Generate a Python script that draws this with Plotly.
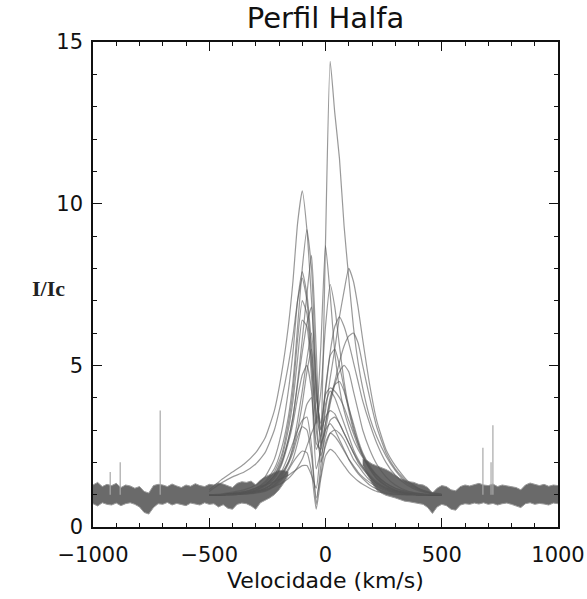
import numpy as np
import plotly.graph_objects as go

# ---------------- data ----------------
# velocity grid for emission-line profiles (km/s)
vel_core = [-500, -450, -400, -350, -300, -260, -220, -190, -160, -140, -120, -100, -80, -60, -40, -20,
            0, 20, 40, 60, 80, 100, 120, 140, 160, 190, 220, 260, 300, 350, 400, 450, 500]

prof_01 = [1.0,1.0,1.05,1.1,1.2,1.3,1.4,1.5,1.6,1.7,1.8,1.9,1.9,1.6,1.2,2.6,8.8,14.4,12.8,11.4,9.3,7.7,6.2,5.1,4.3,3.4,2.8,2.2,1.75,1.35,1.15,1.05,1.0]
prof_02 = [1.15,1.45,1.7,1.95,2.3,2.75,3.6,4.7,6.2,7.6,9.4,10.4,9.2,7.0,4.4,3.0,3.4,3.6,3.5,3.2,2.9,2.6,2.3,2.05,1.85,1.6,1.4,1.22,1.12,1.05,1.0,1.0,1.0]
prof_03 = [1.1,1.35,1.55,1.7,1.95,2.3,3.0,3.9,5.0,5.9,7.0,7.7,7.0,5.2,3.0,2.2,2.8,3.3,3.4,3.2,2.9,2.6,2.3,2.0,1.8,1.55,1.35,1.2,1.1,1.04,1.0,1.0,1.0]
prof_04 = [1.0,1.0,1.02,1.05,1.1,1.2,1.4,1.65,2.0,2.4,3.0,3.8,4.8,5.5,3.5,2.8,3.6,4.6,5.5,6.5,7.3,8.0,7.6,6.8,5.8,4.4,3.3,2.4,1.9,1.45,1.2,1.08,1.02]
prof_05 = [1.0,1.0,1.02,1.05,1.1,1.15,1.25,1.35,1.5,1.65,1.85,2.1,2.5,2.9,3.3,5.6,8.7,7.2,5.4,4.3,3.6,3.1,2.7,2.4,2.15,1.85,1.6,1.35,1.2,1.1,1.04,1.0,1.0]
prof_06 = [1.0,1.0,1.03,1.08,1.2,1.4,1.8,2.4,3.4,4.5,6.2,8.0,9.2,8.0,4.6,2.5,3.2,4.0,4.4,4.5,4.2,3.7,3.2,2.7,2.3,1.9,1.6,1.35,1.2,1.08,1.02,1.0,1.0]
prof_07 = [1.0,1.0,1.02,1.06,1.15,1.3,1.6,2.0,2.7,3.4,4.5,5.8,7.2,8.4,5.5,2.6,3.0,3.8,4.4,4.8,5.0,4.8,4.2,3.6,3.0,2.4,1.95,1.55,1.3,1.12,1.04,1.0,1.0]
prof_08 = [1.0,1.0,1.03,1.08,1.2,1.35,1.7,2.2,3.2,4.2,5.8,7.0,6.6,5.0,3.2,4.2,6.2,7.5,6.8,5.6,4.5,3.7,3.1,2.6,2.25,1.85,1.55,1.3,1.15,1.06,1.02,1.0,1.0]
prof_09 = [1.0,1.0,1.02,1.04,1.1,1.2,1.35,1.6,2.0,2.5,3.3,4.2,5.2,6.0,4.0,3.2,4.2,5.4,6.2,6.5,6.2,5.7,5.1,4.5,3.9,3.2,2.6,2.0,1.6,1.3,1.12,1.04,1.0]
prof_10 = [1.0,1.0,1.03,1.07,1.15,1.3,1.6,2.1,3.0,3.9,5.2,6.4,6.2,4.6,2.4,2.8,4.1,4.3,4.2,4.0,3.7,3.3,2.9,2.5,2.2,1.8,1.5,1.28,1.14,1.05,1.0,1.0,1.0]
prof_11 = [1.0,1.0,1.02,1.05,1.12,1.25,1.5,1.9,2.6,3.2,4.0,4.7,5.0,4.2,1.8,2.4,3.8,4.2,4.0,3.6,3.2,2.8,2.4,2.1,1.85,1.55,1.35,1.18,1.08,1.02,1.0,1.0,1.0]
prof_12 = [1.0,1.0,1.0,1.03,1.08,1.18,1.4,1.7,2.2,2.6,3.0,3.3,3.4,2.5,0.7,1.9,3.0,3.2,3.0,2.7,2.4,2.1,1.85,1.65,1.5,1.3,1.18,1.08,1.02,1.0,1.0,1.0,1.0]
prof_13 = [1.0,0.98,1.0,1.02,1.05,1.1,1.25,1.45,1.75,2.0,2.2,2.35,2.3,1.7,0.55,1.5,2.2,2.4,2.3,2.1,1.9,1.7,1.55,1.42,1.32,1.2,1.1,1.04,1.0,1.0,1.0,1.0,1.0]
prof_14 = [1.0,1.02,1.08,1.15,1.3,1.55,2.1,2.9,4.2,5.4,7.0,7.9,7.2,5.6,3.4,2.0,2.5,2.9,3.0,2.9,2.7,2.4,2.1,1.9,1.7,1.45,1.3,1.15,1.06,1.02,1.0,1.0,1.0]
prof_15 = [1.0,1.0,1.0,1.03,1.08,1.15,1.3,1.5,1.8,2.1,2.6,3.2,3.8,4.0,2.6,2.4,3.2,3.9,4.5,5.1,5.6,5.9,6.0,5.7,5.0,4.0,3.1,2.3,1.8,1.4,1.18,1.06,1.0]
prof_16 = [1.0,1.0,1.02,1.06,1.14,1.28,1.55,1.95,2.7,3.4,4.4,5.4,6.3,6.8,4.2,3.0,4.3,5.3,5.5,5.0,4.3,3.6,3.0,2.6,2.2,1.8,1.5,1.26,1.12,1.04,1.0,1.0,1.0]
prof_17 = [1.0,1.0,1.0,1.02,1.06,1.12,1.3,1.55,1.95,2.3,2.8,3.1,3.0,2.2,0.9,1.6,2.6,2.9,2.8,2.6,2.35,2.1,1.9,1.7,1.55,1.38,1.25,1.12,1.05,1.0,1.0,1.0,1.0]

profiles = [prof_01, prof_02, prof_03, prof_04, prof_05, prof_06, prof_07, prof_08, prof_09,
            prof_10, prof_11, prof_12, prof_13, prof_14, prof_15, prof_16, prof_17]

# continuum band (upper / lower envelope of the overlapping spectra)
vel_left = [-1000,-980,-960,-940,-920,-900,-880,-860,-840,-820,-800,-780,-760,-740,-720,-700,-680,-660,-640,-620,
            -600,-580,-560,-540,-520,-500,-480,-460,-440,-420,-400,-380,-360,-340,-320,-300,-280,-260,-240,
            -220,-200,-180,-160]
upper_left = [1.30,1.38,1.25,1.32,1.28,1.35,1.22,1.30,1.27,1.20,1.25,1.10,1.05,1.28,1.32,1.30,1.25,1.33,1.27,1.22,
              1.30,1.26,1.34,1.28,1.25,1.32,1.30,1.36,1.33,1.28,1.22,1.35,1.40,1.38,1.42,1.30,1.45,1.55,1.62,
              1.70,1.75,1.75,1.70]
lower_left = [0.72,0.65,0.75,0.70,0.68,0.74,0.66,0.72,0.75,0.70,0.62,0.45,0.40,0.60,0.72,0.70,0.76,0.68,0.73,0.70,
              0.66,0.74,0.71,0.68,0.75,0.70,0.72,0.62,0.69,0.58,0.55,0.70,0.74,0.72,0.65,0.55,0.75,0.82,0.90,
              1.00,1.15,1.35,1.60]

vel_right = [160,180,200,220,240,260,
             280,300,320,340,360,380,400,420,440,460,480,500,520,540,560,580,600,620,640,660,
             680,700,720,740,760,780,800,820,840,860,880,900,920,940,960,980,1000]
upper_right = [2.10,2.05,1.95,1.90,1.85,1.78,
               1.70,1.60,1.50,1.45,1.40,1.38,1.32,1.30,1.22,1.05,1.20,1.28,1.25,1.15,1.12,1.25,1.30,1.27,1.32,1.35,
               1.30,1.28,1.33,1.25,1.30,1.28,1.24,1.22,1.15,1.30,1.36,1.33,1.28,1.32,1.26,1.30,1.28]
lower_right = [1.90,1.60,1.35,1.15,1.05,0.98,
               0.95,0.90,0.85,0.80,0.78,0.75,0.72,0.70,0.60,0.42,0.62,0.70,0.66,0.55,0.52,0.68,0.72,0.70,0.74,0.71,
               0.75,0.70,0.73,0.68,0.72,0.74,0.70,0.66,0.60,0.72,0.75,0.70,0.73,0.71,0.68,0.74,0.72]

# narrow spikes (cosmic rays / telluric)
spike_vel = [-926, -883, -711, 677, 712, 720]
spike_top = [1.7, 2.0, 3.6, 2.45, 2.0, 3.15]

x_ticks = [-1000, -500, 0, 500, 1000]
y_ticks = [0, 5, 10, 15]

# ---------------- figure ----------------
fig = go.Figure()

band_col = "#6a6a6a"
for vx, lo, up in [(vel_left, lower_left, upper_left), (vel_right, lower_right, upper_right)]:
    fig.add_trace(go.Scatter(x=vx, y=lo, mode="lines", line=dict(color="#9a9a9a", width=1),
                             showlegend=False, hoverinfo="skip"))
    fig.add_trace(go.Scatter(x=vx, y=up, mode="lines", line=dict(color="#9a9a9a", width=1),
                             fill="tonexty", fillcolor=band_col, showlegend=False, hoverinfo="skip"))

for v, t in zip(spike_vel, spike_top):
    fig.add_trace(go.Scatter(x=[v, v], y=[1.0, t], mode="lines",
                             line=dict(color="#a8a8a8", width=1.2), showlegend=False, hoverinfo="skip"))

for p in profiles:
    fig.add_trace(go.Scatter(x=vel_core, y=p, mode="lines",
                             line=dict(color="rgba(85,85,85,0.6)", width=1.2, shape="spline", smoothing=0.5),
                             showlegend=False, hoverinfo="skip"))

sans = "DejaVu Sans, Verdana, sans-serif"
axis_font = dict(family=sans, size=21, color="#111")

fig.update_layout(
    width=587, height=599,
    margin=dict(l=93, r=29, t=42, b=72, autoexpand=False),
    paper_bgcolor="white", plot_bgcolor="white",
    title=dict(text="Perfil Halfa", x=0.5, xanchor="center", y=1 - 18 / 599, yanchor="middle",
               xref="paper", font=dict(family=sans, size=29, color="#111")),
    font=axis_font,
)
fig.update_xaxes(range=[-1000, 1000], tickvals=x_ticks, ticks="inside", ticklen=9, tickwidth=1.3,
                 tickcolor="#111", showline=True, linecolor="#111", linewidth=1.5, mirror="ticks",
                 showgrid=False, zeroline=False, tickfont=axis_font, ticklabelstandoff=8,
                 automargin=False, ticklabeloverflow="allow",
                 minor=dict(dtick=100, ticks="inside", ticklen=4, tickcolor="#111", tickwidth=1.2, showgrid=False))
fig.update_yaxes(range=[0, 15], tickvals=y_ticks, ticks="inside", ticklen=9, tickwidth=1.3,
                 tickcolor="#111", showline=True, linecolor="#111", linewidth=1.5, mirror="ticks",
                 showgrid=False, zeroline=False, tickfont=axis_font, ticklabelstandoff=4,
                 automargin=False, ticklabeloverflow="allow",
                 minor=dict(dtick=1, ticks="inside", ticklen=4, tickcolor="#111", tickwidth=1.2, showgrid=False))

# x-axis title
fig.add_annotation(text="Velocidade (km/s)", xref="paper", yref="paper", x=0.5, y=-(580 - 527) / 485,
                   xanchor="center", yanchor="middle", showarrow=False,
                   font=dict(family=sans, size=22, color="#111"))
# y-axis label (horizontal, serif)
fig.add_annotation(text="<b>I/Ic</b>", xref="paper", yref="paper", x=(48 - 93) / 465, y=(527 - 288) / 485,
                   xanchor="center", yanchor="middle", showarrow=False,
                   font=dict(family="Liberation Serif, Times New Roman, serif", size=22, color="#222"))

fig.write_html("out.html")
